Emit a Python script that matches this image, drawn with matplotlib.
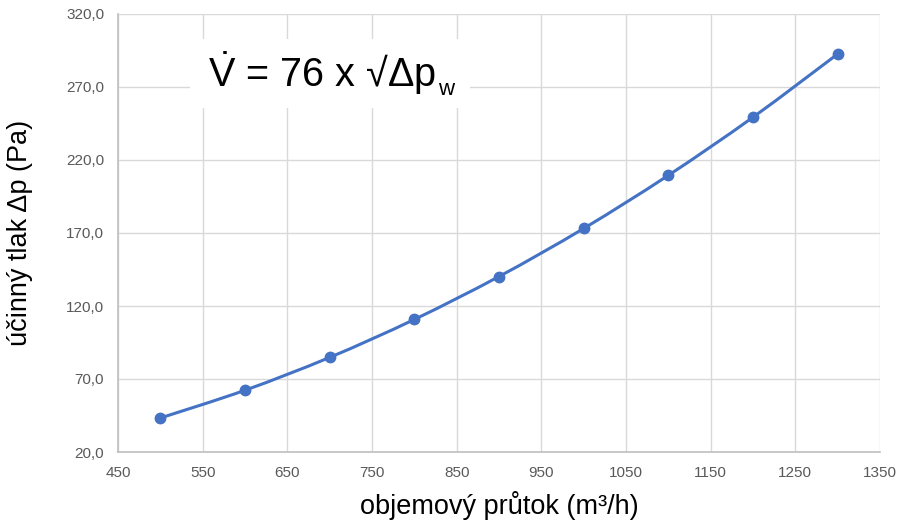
import numpy as np
import matplotlib
matplotlib.use('Agg')
from matplotlib import pyplot as plt
from matplotlib.path import Path
from matplotlib.patches import PathPatch, Rectangle

# data
prutok = [500, 600, 700, 800, 900, 1000, 1100, 1200, 1300]
tlak = [43.3, 62.3, 84.8, 110.8, 140.2, 173.1, 209.5, 249.3, 292.6]
xticks = [450, 550, 650, 750, 850, 950, 1050, 1150, 1250, 1350]
yticks = [20, 70, 120, 170, 220, 270, 320]

plt.rcParams['font.family'] = ['Liberation Sans', 'DejaVu Sans']
plt.rcParams['mathtext.fontset'] = 'custom'
plt.rcParams['mathtext.rm'] = 'Liberation Sans'
plt.rcParams['mathtext.it'] = 'Liberation Sans:italic'

W, H = 912, 522
fig = plt.figure(figsize=(W/100, H/100), dpi=100)
ax = fig.add_axes([118/W, 70/H, 762/W, 438/H])

blue = '#4472C4'

# smoothed line (Excel-like bezier through the points)
x = np.array(prutok, float)
y = np.array(tlak, float)
verts = [(x[0], y[0])]
codes = [Path.MOVETO]
n = len(x)
for i in range(n - 1):
    p0 = (x[max(i-1, 0)], y[max(i-1, 0)])
    p1 = (x[i], y[i])
    p2 = (x[i+1], y[i+1])
    p3 = (x[min(i+2, n-1)], y[min(i+2, n-1)])
    c1 = (p1[0] + (p2[0]-p0[0])/6, p1[1] + (p2[1]-p0[1])/6)
    c2 = (p2[0] - (p3[0]-p1[0])/6, p2[1] - (p3[1]-p1[1])/6)
    verts += [c1, c2, p2]
    codes += [Path.CURVE4]*3
ax.add_patch(PathPatch(Path(verts, codes), fill=False, edgecolor=blue, lw=2.2, zorder=3))
ax.plot(prutok, tlak, 'o', color=blue, ms=7.5, zorder=4)

ax.set_xlim(450, 1350)
ax.set_ylim(20, 320)
ax.set_xticks(xticks)
ax.set_yticks(yticks)
ax.set_yticklabels([f'{v:.1f}'.replace('.', ',') for v in yticks])
ax.grid(True, color='#d9d9d9', lw=1)
ax.set_axisbelow(True)
for s in ['top', 'right']:
    ax.spines[s].set_visible(False)
for s in ['left', 'bottom']:
    ax.spines[s].set_color('#bfbfbf')
    ax.spines[s].set_linewidth(1.2)
ax.tick_params(length=0, labelsize=11, labelcolor='#595959', pad=10)

ax.set_xlabel('objemový průtok (m³/h)', fontsize=19.5, labelpad=8)
ax.set_ylabel('účinný tlak Δp (Pa)', fontsize=19.5, labelpad=24)

# formula box (pixel coords, origin at bottom-left of figure)
main = fig.text(208/W, 1 - 87/H, r'$\dot{\mathrm{V}}$ = 76 x √Δp',
                fontsize=28.5, va='baseline', ha='left', zorder=6)
fig.canvas.draw()
bb = main.get_window_extent()
sub = fig.text((bb.x1 + 2)/W, 1 - 100/H, 'w', fontsize=16, va='bottom',
               ha='left', zorder=6)
fig.canvas.draw()
sb = sub.get_window_extent()
x0, x1 = bb.x0 - 18, sb.x1 + 16
y0, y1 = min(bb.y0, sb.y0) - 8, bb.y1 + 10
fig.patches.append(Rectangle((x0/W, y0/H), (x1-x0)/W, (y1-y0)/H,
                             transform=fig.transFigure, facecolor='white',
                             edgecolor='none', zorder=5))

fig.savefig('out.png', dpi=100)
